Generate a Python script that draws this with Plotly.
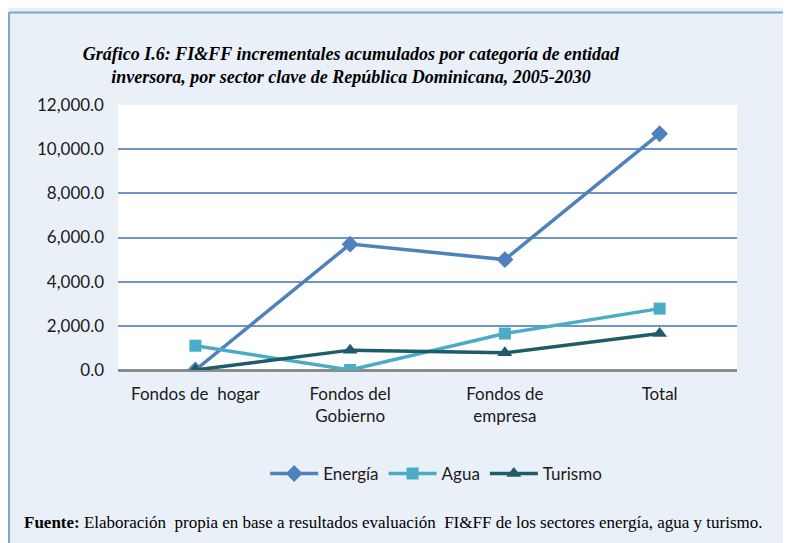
import plotly.graph_objects as go

categories = ["Fondos de  hogar", "Fondos del<br>Gobierno", "Fondos de<br>empresa", "Total"]
energia = [0, 5700, 5000, 10700]
agua = [1100, 0, 1650, 2780]
turismo = [0, 900, 780, 1650]
y_ticks = [0, 2000, 4000, 6000, 8000, 10000, 12000]
y_tick_labels = ["0.0", "2,000.0", "4,000.0", "6,000.0", "8,000.0", "10,000.0", "12,000.0"]

series = [
    ("Energía", energia, "#4f81bd", "diamond", 13),
    ("Agua", agua, "#4bacc6", "square", 12),
    ("Turismo", turismo, "#1f5b69", "triangle-up", 13),
]

fig = go.Figure()
for name, vals, color, sym, size in series:
    fig.add_trace(go.Scatter(
        x=categories, y=vals, name=name, mode="lines+markers",
        line=dict(color=color, width=3.5),
        marker=dict(symbol=sym, size=size, color=color),
    ))

font_sans = "Lato, 'Open Sans', sans-serif"
fig.update_layout(
    width=783, height=535,
    margin=dict(l=110, r=54, t=97, b=173),
    paper_bgcolor="#eaf0f8",
    plot_bgcolor="#ffffff",
    font=dict(family=font_sans, size=17, color="#1a1a1a"),
    showlegend=True,
    legend=dict(orientation="h", x=0.514, xanchor="center", y=-0.392, yanchor="middle",
                bgcolor="rgba(0,0,0,0)", font=dict(size=17), itemwidth=48,
                traceorder="normal"),
    title=dict(
        text="<b><i>Gráfico I.6: FI&FF incrementales acumulados por categoría de entidad<br>inversora, por sector clave de República Dominicana, 2005-2030</i></b>",
        x=0.438, xanchor="center", y=0.903, yanchor="middle",
        font=dict(family="'Liberation Serif', serif", size=18, color="#000000"),
    ),
    xaxis=dict(
        type="category", range=[-0.5, 3.5], showgrid=False, ticks="", showline=False,
        tickfont=dict(size=17), ticklabelstandoff=12,
    ),
    yaxis=dict(
        range=[0, 12000], tickvals=y_ticks, ticktext=y_tick_labels,
        showgrid=True, gridcolor="#6f95c8", gridwidth=1.5,
        zeroline=True, zerolinecolor="#8c8c8c", zerolinewidth=2.5,
        showline=False, ticks="", ticklabelstandoff=13,
        tickfont=dict(size=17),
    ),
    shapes=[
        dict(type="line", xref="paper", yref="paper", x0=-0.176, x1=1.2, y0=1.349, y1=1.349,
             line=dict(color="#7fa3cf", width=2)),
        dict(type="line", xref="paper", yref="paper", x0=-0.176, x1=-0.176, y0=-0.75, y1=1.35,
             line=dict(color="#7fa3cf", width=2)),
    ],
    annotations=[
        dict(text="<b>Fuente:</b> Elaboración  propia en base a resultados evaluación  FI&FF de los sectores energía, agua y turismo.",
             xref="paper", yref="paper", x=-0.155, xanchor="left", y=-0.577, yanchor="middle",
             showarrow=False, font=dict(family="'Liberation Serif', serif", size=17, color="#000000")),
    ],
)
fig.write_html("out.html")
